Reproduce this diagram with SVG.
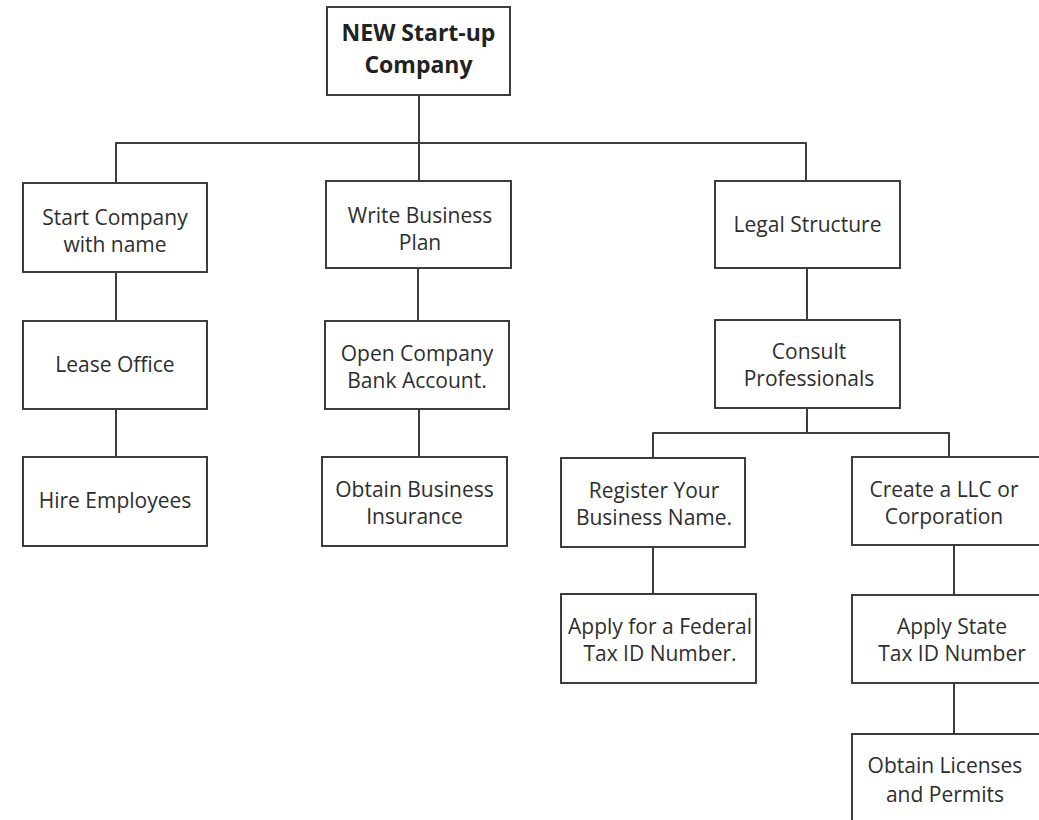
<svg xmlns="http://www.w3.org/2000/svg" width="1039" height="820" viewBox="0 0 1039 820">
<style>
.box{fill:#fff;stroke:#3c3c3c;stroke-width:2}
.t{font-family:"Open Sans","Noto Sans",sans-serif;font-size:21px;fill:#2e2e2e;text-anchor:middle}
.b{font-weight:bold;font-size:23px;fill:#222}
.c{fill:none;stroke:#3c3c3c;stroke-width:2;stroke-linejoin:round}
</style>
<rect width="1039" height="820" fill="#fff"/>
<g id="connectors">
<path class="c" d="M419 95V181"/>
<path class="c" d="M116 183V143H806V181"/>
<path class="c" d="M116 272V321"/>
<path class="c" d="M116 409V457"/>
<path class="c" d="M418 268V321"/>
<path class="c" d="M419 409V457"/>
<path class="c" d="M807 268V320"/>
<path class="c" d="M807 408V433"/>
<path class="c" d="M653 458V433H949V457"/>
<path class="c" d="M653 547V594"/>
<path class="c" d="M954 545V595"/>
<path class="c" d="M954 683V734"/>
</g>
<g id="root"><rect class="box" x="327" y="7" width="183" height="88"/><text class="t b" x="418.5" y="41">NEW Start-up</text><text class="t b" x="418.5" y="73">Company</text></g>
<g id="start"><rect class="box" x="23" y="183" width="184" height="89"/><text class="t" x="115" y="225">Start Company</text><text class="t" x="115" y="252">with name</text></g>
<g id="write"><rect class="box" x="326" y="181" width="185" height="87"/><text class="t" x="420" y="223">Write Business</text><text class="t" x="420" y="250">Plan</text></g>
<g id="legal"><rect class="box" x="715" y="181" width="185" height="87"/><text class="t" x="807.5" y="232">Legal Structure</text></g>
<g id="lease"><rect class="box" x="23" y="321" width="184" height="88"/><text class="t" x="115" y="372">Lease Office</text></g>
<g id="hire"><rect class="box" x="23" y="457" width="184" height="89"/><text class="t" x="115" y="508">Hire Employees</text></g>
<g id="bank"><rect class="box" x="325" y="321" width="184" height="88"/><text class="t" x="417" y="361">Open Company</text><text class="t" x="417" y="388">Bank Account.</text></g>
<g id="insurance"><rect class="box" x="322" y="457" width="185" height="89"/><text class="t" x="414.5" y="497">Obtain Business</text><text class="t" x="414.5" y="524">Insurance</text></g>
<g id="consult"><rect class="box" x="715" y="320" width="185" height="88"/><text class="t" x="809" y="359">Consult</text><text class="t" x="809" y="386">Professionals</text></g>
<g id="register"><rect class="box" x="561" y="458" width="184" height="89"/><text class="t" x="654" y="498">Register Your</text><text class="t" x="654" y="525">Business Name.</text></g>
<g id="llc"><rect class="box" x="852" y="457" width="200" height="88"/><text class="t" x="944" y="497">Create a LLC or</text><text class="t" x="944" y="524">Corporation</text></g>
<g id="federal"><rect class="box" x="561" y="594" width="195" height="89"/><text class="t" x="660" y="634">Apply for a Federal</text><text class="t" x="660" y="661">Tax ID Number.</text></g>
<g id="state"><rect class="box" x="852" y="595" width="200" height="88"/><text class="t" x="952" y="634">Apply State</text><text class="t" x="952" y="661">Tax ID Number</text></g>
<g id="licenses"><rect class="box" x="852" y="734" width="200" height="100"/><text class="t" x="945" y="773">Obtain Licenses</text><text class="t" x="945" y="802">and Permits</text></g>
</svg>
